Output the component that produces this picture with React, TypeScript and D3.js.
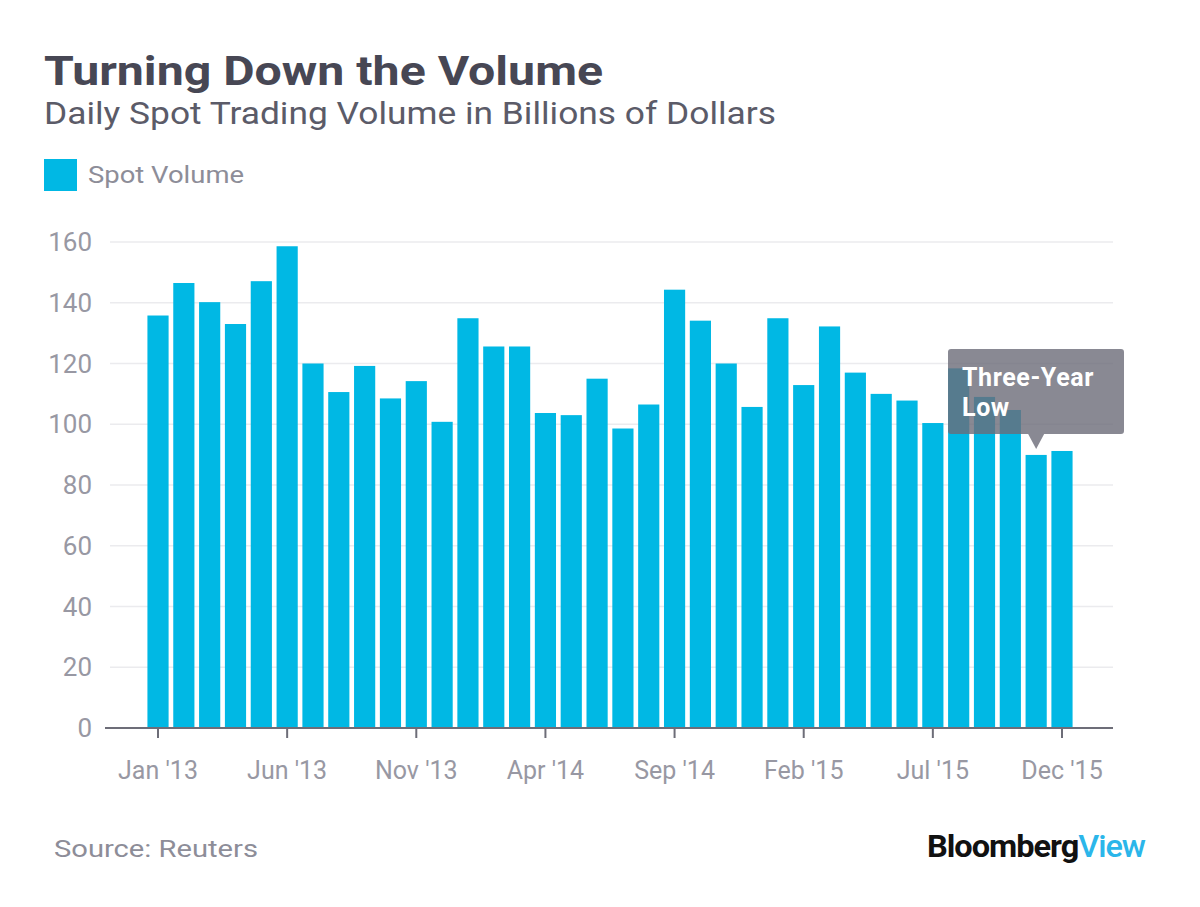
import * as d3 from "d3";

const months = [
  "Jan '13", "Feb '13", "Mar '13", "Apr '13", "May '13", "Jun '13",
  "Jul '13", "Aug '13", "Sep '13", "Oct '13", "Nov '13", "Dec '13",
  "Jan '14", "Feb '14", "Mar '14", "Apr '14", "May '14", "Jun '14",
  "Jul '14", "Aug '14", "Sep '14", "Oct '14", "Nov '14", "Dec '14",
  "Jan '15", "Feb '15", "Mar '15", "Apr '15", "May '15", "Jun '15",
  "Jul '15", "Aug '15", "Sep '15", "Oct '15", "Nov '15", "Dec '15",
];

const spotVolume = [
  135.8, 146.5, 140.2, 133, 147.1, 158.6,
  120, 110.6, 119.2, 108.5, 114.2, 100.8,
  134.9, 125.6, 125.6, 103.7, 103, 115,
  98.6, 106.5, 144.3, 134.1, 120, 105.7,
  134.9, 112.9, 132.2, 117, 110, 107.8,
  100.4, 118.4, 109, 104.7, 89.9, 91.2,
];

const xTickLabels = ["Jan '13", "Jun '13", "Nov '13", "Apr '14", "Sep '14", "Feb '15", "Jul '15", "Dec '15"];
const yTicks = [0, 20, 40, 60, 80, 100, 120, 140, 160];

const annotation = { month: "Nov '15", lines: ["Three-Year", "Low"] };

const FONT = "Roboto, 'Liberation Sans', sans-serif";

export default function App() {
  const width = 1200;
  const height = 907;

  const x = d3
    .scaleBand<string>()
    .domain(months)
    .range([145.1, 1074.9])
    .paddingInner(0.18)
    .paddingOuter(0.09);

  const y = d3.scaleLinear().domain([0, 160]).range([728, 242]);

  const blue = "#00b8e4";
  const axisGrey = "#9898a3";

  const tipX = (x(annotation.month) ?? 0) + x.bandwidth() / 2;
  const boxTop = 349;
  const boxBottom = 434;

  return (
    <svg
      width={width}
      height={height}
      style={{ position: "absolute", left: 0, top: 0, background: "#fff" }}
      fontFamily={FONT}
    >
      {/* Titles */}
      <text x={44} y={85} fontSize={40} fontWeight={700} fill="#474754" textLength={559} lengthAdjust="spacingAndGlyphs">
        Turning Down the Volume
      </text>
      <text x={44} y={124} fontSize={31} fill="#5b5b68" textLength={732} lengthAdjust="spacingAndGlyphs">
        Daily Spot Trading Volume in Billions of Dollars
      </text>

      {/* Legend */}
      <rect x={44} y={159} width={33} height={32} fill={blue} />
      <text x={88} y={183} fontSize={23} fill="#8d8d98" textLength={156} lengthAdjust="spacingAndGlyphs">
        Spot Volume
      </text>

      {/* Grid + y labels */}
      {yTicks.map((t) => (
        <g key={t}>
          {t > 0 && (
            <line x1={110} x2={1113} y1={y(t)} y2={y(t)} stroke="#ebebee" strokeWidth={1.5} />
          )}
          <text x={92} y={y(t) + 9} fontSize={26} textAnchor="end" fill={axisGrey}>
            {t}
          </text>
        </g>
      ))}

      {/* Bars */}
      {months.map((m, i) => (
        <rect
          key={m}
          x={x(m)}
          y={y(spotVolume[i])}
          width={x.bandwidth()}
          height={y(0) - y(spotVolume[i])}
          fill={blue}
        />
      ))}

      {/* X axis */}
      <line x1={105} x2={1113} y1={y(0)} y2={y(0)} stroke="#6d6d78" strokeWidth={2} />
      {xTickLabels.map((m) => {
        const cx = (x(m) ?? 0) + x.bandwidth() / 2;
        return (
          <g key={m}>
            <line x1={cx} x2={cx} y1={y(0)} y2={y(0) + 10} stroke="#6d6d78" strokeWidth={2} />
            <text x={cx} y={779} fontSize={25} textAnchor="middle" fill={axisGrey}>
              {m}
            </text>
          </g>
        );
      })}

      {/* Annotation */}
      <g>
        <path
          d={`M948,${boxTop + 3} Q948,${boxTop} 951,${boxTop} L1121,${boxTop} Q1124,${boxTop} 1124,${boxTop + 3} L1124,${boxBottom - 3} Q1124,${boxBottom} 1121,${boxBottom} L${tipX + 8},${boxBottom} L${tipX},${boxBottom + 15} L${tipX - 8},${boxBottom} L951,${boxBottom} Q948,${boxBottom} 948,${boxBottom - 3} Z`}
          fill="#6b6b78"
          fillOpacity={0.8}
        />
        {annotation.lines.map((l, i) => (
          <text key={l} x={962} y={386 + i * 30} fontSize={25} fontWeight={700} fill="#ffffff" letterSpacing={0.6}>
            {l}
          </text>
        ))}
      </g>

      {/* Footer */}
      <text x={54} y={857} fontSize={23} fill="#8d8d98" textLength={204} lengthAdjust="spacingAndGlyphs">
        Source: Reuters
      </text>
      <text x={927} y={857} fontSize={32} letterSpacing={-1} textLength={218} lengthAdjust="spacingAndGlyphs">
        <tspan fontWeight={700} fill="#111111">Bloomberg</tspan>
        <tspan fill="#2bb6ea" fontWeight={500}>View</tspan>
      </text>
    </svg>
  );
}
